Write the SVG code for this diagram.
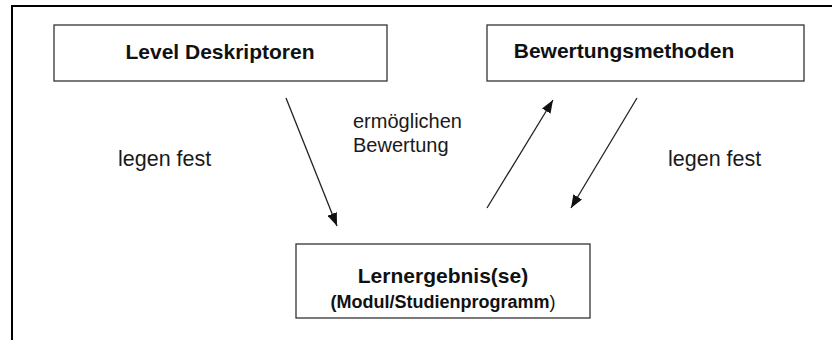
<svg xmlns="http://www.w3.org/2000/svg" width="832" height="340" viewBox="0 0 832 340">
  <style>
    .box { fill: #ffffff; stroke: #333333; stroke-width: 1.3; }
    .title { font-family: "Liberation Sans", Arial, sans-serif; font-weight: bold; font-size: 21px; fill: #111111; text-anchor: middle; }
    .sub { font-family: "Liberation Sans", Arial, sans-serif; font-weight: bold; font-size: 18px; fill: #111111; text-anchor: middle; }
    .lbl { font-family: "Liberation Sans", Arial, sans-serif; font-size: 20px; fill: #1a1a1a; }
    .lbl2 { font-family: "Liberation Sans", Arial, sans-serif; font-size: 21.5px; fill: #1a1a1a; }
    .conn { stroke: #222222; stroke-width: 1.3; fill: none; marker-end: url(#ah); }
  </style>
  <defs>
    <marker id="ah" markerUnits="userSpaceOnUse" markerWidth="14" markerHeight="10" refX="13" refY="5" orient="auto">
      <path d="M0,0 L13,5 L0,10 Z" fill="#111111"/>
    </marker>
  </defs>
  <rect x="0" y="0" width="832" height="340" fill="#ffffff"/>
  <g id="frame">
    <line x1="11" y1="6" x2="832" y2="6" stroke="#000000" stroke-width="2"/>
    <line x1="12" y1="5" x2="12" y2="340" stroke="#000000" stroke-width="2"/>
  </g>
  <g id="level">
    <rect class="box" x="54" y="25" width="333" height="56"/>
    <text class="title" x="220" y="59">Level Deskriptoren</text>
  </g>
  <g id="bewertung">
    <rect class="box" x="487" y="25" width="317" height="56"/>
    <text class="title" x="624" y="58">Bewertungsmethoden</text>
  </g>
  <g id="lernergebnis">
    <rect class="box" x="296" y="244" width="294" height="74"/>
    <text class="title" x="443" y="283">Lernergebnis(se)</text>
    <text class="sub" x="443" y="308">(Modul/Studienprogramm<tspan font-weight="normal">)</tspan></text>
  </g>
  <g id="connectors">
    <line class="conn" x1="286" y1="98" x2="337" y2="226"/>
    <line class="conn" x1="487" y1="208" x2="553" y2="100"/>
    <line class="conn" x1="637" y1="98" x2="571" y2="208"/>
  </g>
  <g id="labels">
    <text class="lbl2" x="118" y="166">legen fest</text>
    <text class="lbl2" x="668" y="166">legen fest</text>
    <text class="lbl" x="353" y="128">ermöglichen</text>
    <text class="lbl" x="353" y="152">Bewertung</text>
  </g>
</svg>
